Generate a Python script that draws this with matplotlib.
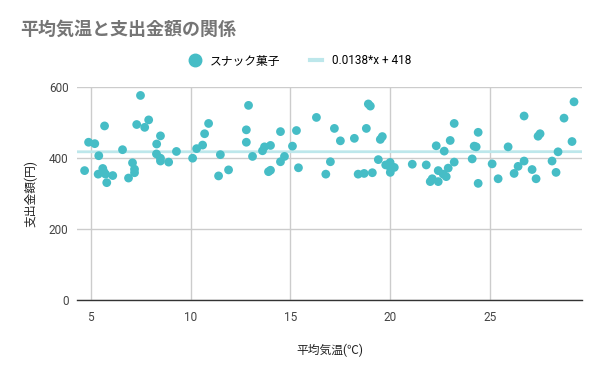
import matplotlib
matplotlib.use("Agg")
import matplotlib.pyplot as plt
from matplotlib.lines import Line2D
import numpy as np

plt.rcParams['font.family'] = ['Roboto', 'Noto Sans CJK JP', 'DejaVu Sans']

title = "平均気温と支出金額の関係"
series_name = "スナック菓子"
trend_label = "0.0138*x + 418"
x_label = "平均気温(℃)"
y_label = "支出金額(円)"

temps = [4.69, 4.89, 5.2, 5.4, 5.69, 5.6, 5.37, 5.74, 5.65, 6.1, 5.8,
         6.59, 6.89, 7.09, 7.19, 7.19, 7.3, 7.49, 7.7, 7.9, 8.3, 8.49,
         8.29, 8.49, 8.49, 8.9, 9.29, 10.1, 10.3, 10.6, 10.7, 10.9,
         11.49, 11.4, 11.9, 12.9, 12.79, 12.79, 13.1, 13.6, 13.7, 14.0,
         14.5, 14.7, 14.5, 13.9, 14.0, 15.1, 15.3, 15.4, 16.3, 16.77,
         17.0, 17.2, 17.5, 18.2, 18.8, 18.9, 19.0, 18.39, 18.69, 19.1,
         19.5, 19.6, 19.4, 19.77, 19.99, 20.02, 20.2, 20.0, 21.1, 21.8,
         22.3, 22.7, 23.0, 23.2, 23.2, 22.0, 22.4, 22.1, 22.4, 22.65,
         22.8, 22.9, 24.1, 24.2, 24.3, 24.4, 24.4, 25.1, 25.4, 25.9,
         26.2, 26.4, 26.7, 26.7, 27.1, 27.3, 27.4, 27.5, 28.1, 28.3,
         28.4, 28.7, 29.1, 29.2]
spend = [365, 445, 441, 407, 491, 371, 355, 355, 362, 351, 331,
         424, 344, 387, 369, 359, 495, 577, 487, 508, 440, 463,
         412, 400, 392, 389, 419, 400, 427, 437, 469, 498,
         410, 350, 367, 549, 480, 445, 405, 421, 432, 436,
         475, 405, 390, 362, 366, 434, 478, 373, 515, 355,
         390, 484, 449, 456, 484, 553, 547, 355, 357, 359,
         453, 461, 396, 381, 388, 371, 374, 360, 383, 381,
         435, 420, 450, 498, 389, 334, 334, 342, 365, 355,
         348, 372, 398, 434, 432, 473, 329, 384, 342, 432,
         357, 377, 392, 519, 368, 342, 462, 469, 392, 360,
         418, 513, 447, 559]

slope = 0.0138
intercept = 418

x_ticks = [5, 10, 15, 20, 25]
y_ticks = [0, 200, 400, 600]

fig = plt.figure(figsize=(6, 3.71), dpi=100)
ax = fig.add_axes([0.128, 0.1914, 0.842, 0.5733])

point_color = "#46bdc6"
trend_color = "#bde7eb"

xlim = (4.3, 29.6)
ax.set_xlim(*xlim)
ax.set_ylim(0, 600)

xs = np.array(xlim)
ax.plot(xs, slope * xs + intercept, color=trend_color, lw=2.0, zorder=2, solid_capstyle='butt')
ax.scatter(temps, spend, s=40, color=point_color, edgecolors='none', zorder=3)

ax.set_xticks(x_ticks)
ax.set_yticks(y_ticks)
ax.grid(True, color="#cccccc", lw=1)
ax.set_axisbelow(True)
for s in ['top', 'right', 'left']:
    ax.spines[s].set_visible(False)
ax.spines['bottom'].set_color('#333333')
ax.spines['bottom'].set_linewidth(1)
ax.tick_params(axis='both', length=0, labelsize=8.5, labelcolor='#444444')
ax.tick_params(axis='x', pad=8)
ax.tick_params(axis='y', pad=6)

ax.set_xlabel(x_label, fontsize=8.5, color='#222222', labelpad=14)
ax.set_ylabel(y_label, fontsize=8.5, color='#222222', labelpad=8)

fig.text(20 / 600, 1 - 30 / 371, title, fontsize=13, color='#757575',
         fontweight='bold', va='center', ha='left')

handles = [Line2D([], [], marker='o', ls='none', color=point_color, markersize=9),
           Line2D([], [], color=trend_color, lw=3)]
fig.legend(handles, [series_name, trend_label], loc='center',
           bbox_to_anchor=(0.5, 1 - 61 / 371), ncol=2, frameon=False,
           fontsize=8.5, handlelength=1.0, handletextpad=0.8, columnspacing=2.5)

fig.savefig("out.png", dpi=100, facecolor='white')
